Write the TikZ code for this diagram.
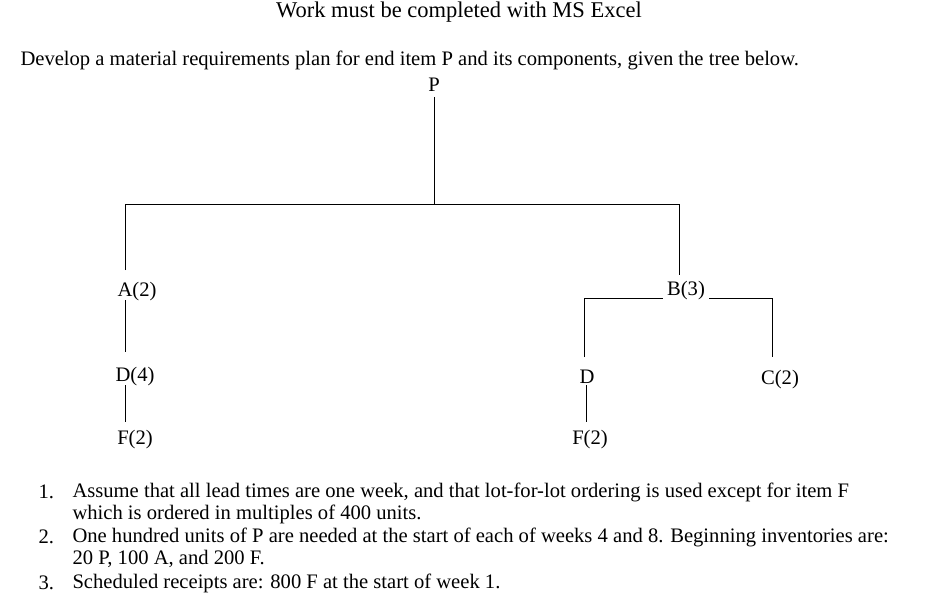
\documentclass[tikz,border=0pt]{standalone}
\usepackage{fontspec}
\setmainfont{Liberation Serif}
\begin{document}
\begin{tikzpicture}[x=1pt,y=-1pt,line width=1pt,
  txt/.style={inner sep=0pt,font=\fontsize{20.6}{24}\selectfont},
  lft/.style={txt,anchor=west}]
\useasboundingbox (0,0) rectangle (926,604);
\node[txt,font=\fontsize{22.5}{26}\selectfont] (title) at (459,12) {Work must be completed with MS Excel};
\node[lft] (intro) at (20,60) {Develop a material requirements plan for end item P and its components, given the tree below.};
\node[txt] (P) at (434,85) {P};
\node[txt] (A) at (137,292) {A(2)};
\node[txt] (D1) at (135,377) {D(4)};
\node[txt] (F1) at (135,440) {F(2)};
\node[txt] (B) at (686,291) {B(3)};
\node[txt] (D2) at (587,377) {D};
\node[txt] (F2) at (590,440) {F(2)};
\node[txt] (C) at (780,380) {C(2)};
\coordinate (j) at (434,205);
\draw (434,97) -- (j);
\draw (125,270) -- (125,205) -- (679,205) -- (679,275);
\draw (125,300) -- (125,352);
\draw (125,385) -- (125,422);
\draw (584,357) -- (584,298) -- (663,298);
\draw (709,298) -- (772,298) -- (772,357);
\draw (586,385) -- (586,422);
\node[lft] (n1) at (38,492) {1.};
\node[lft] (l1a) at (72,492) {Assume that all lead times are one week, and that lot-for-lot ordering is used except for item F};
\node[lft] (l1b) at (72,514) {which is ordered in multiples of 400 units.};
\node[lft] (n2) at (38,537) {2.};
\node[lft] (l2a) at (72,537) {One hundred units of P are needed at the start of each of weeks 4 and 8. Beginning inventories are:};
\node[lft] (l2b) at (72,559) {20 P, 100 A, and 200 F.};
\node[lft] (n3) at (38,583) {3.};
\node[lft] (l3) at (72,583) {Scheduled receipts are: 800 F at the start of week 1.};
\end{tikzpicture}
\end{document}
